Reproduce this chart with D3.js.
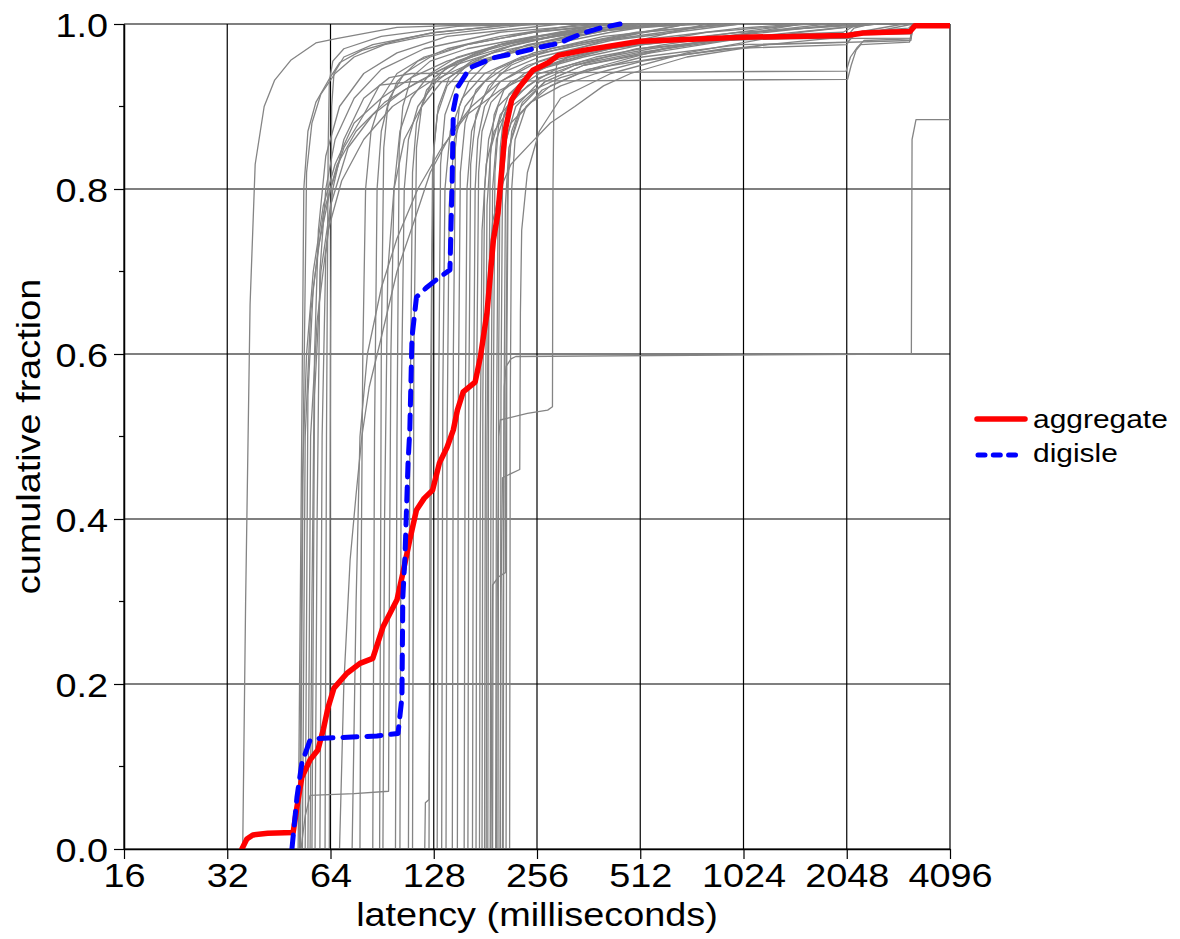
<!DOCTYPE html>
<html><head><meta charset="utf-8">
<script src="https://cdn.jsdelivr.net/npm/d3@7"></script>
<style>
body{margin:0;background:#fff}
svg{display:block}
text{font-family:"Liberation Sans",Arial,Helvetica,sans-serif;fill:#000}
</style>
</head><body>
<svg id="c" width="1180" height="939"></svg>
<script>
const xTicks = [16,32,64,128,256,512,1024,2048,4096];
const yTicks = [0,0.2,0.4,0.6,0.8,1.0];
const yMinorTicks = [0.1,0.3,0.5,0.7,0.9];
const legendLabels = ["aggregate","digisle"];

// [latency ms, cumulative fraction]
const aggregate = [[35.3,0],[36.5,0.012],[38,0.017],[42,0.019],[49.8,0.02],[51.1,0.051],[52.8,0.087],[55.8,0.108],[58.8,0.12],[61,0.145],[63,0.172],[65.5,0.195],[71.5,0.213],[78,0.225],[85,0.231],[91,0.269],[100,0.302],[104,0.334],[109,0.375],[114,0.411],[120,0.425],[127,0.435],[133,0.468],[140,0.487],[146,0.508],[150,0.532],[156,0.554],[169,0.566],[175,0.596],[183,0.65],[191,0.738],[197,0.771],[202,0.823],[207,0.872],[216,0.908],[228,0.924],[249,0.944],[276,0.953],[295,0.962],[349,0.968],[511,0.979],[1021,0.984],[2051,0.986],[2284,0.989],[3132,0.991],[3238,0.998],[4096,0.998]];

const digisle = [[49.4,0],[51.1,0.063],[52.8,0.104],[55.8,0.132],[58.8,0.134],[87.4,0.137],[100.7,0.14],[103.4,0.184],[104,0.305],[105.5,0.354],[107.7,0.468],[109,0.508],[110.6,0.62],[114,0.669],[122.3,0.681],[133,0.693],[142.7,0.702],[144.7,0.802],[146,0.896],[150.6,0.924],[163.3,0.947],[191,0.959],[224,0.965],[256,0.971],[299,0.977],[313,0.981],[349,0.989],[391,0.995],[447,1.0]];

const nodes = [
[[35.5,0],[36.2,0.3],[37.3,0.66],[38.6,0.83],[41,0.9],[44,0.932],[49,0.956],[58,0.977],[66,0.982],[100,0.996],[200,1]],
[[51.5,0],[52.5,0.4],[53.5,0.8],[55,0.87],[58,0.905],[64,0.936],[68,0.953],[79,0.968],[100,0.98],[125,0.989],[200,0.998],[300,1]],
[[52.3,0],[53.3,0.5],[54.5,0.82],[56.5,0.88],[60,0.915],[66,0.94],[75,0.96],[92,0.975],[120,0.985],[250,1]],
[[55.8,0],[56.5,0.3],[57.5,0.6],[59,0.75],[62,0.84],[68,0.9],[80,0.94],[100,0.965],[140,0.985],[300,1]],
[[57.7,0],[58.5,0.4],[59.6,0.7],[62,0.8],[66,0.86],[75,0.91],[90,0.945],[120,0.97],[200,0.99],[400,1]],
[[59.6,0],[60.5,0.5],[62,0.72],[65,0.8],[70,0.86],[80,0.91],[95,0.935],[110,0.94],[2040,0.943],[2100,0.96],[2200,0.972],[2300,0.98],[3150,0.982],[3200,1]],
[[61.7,0],[62.3,0.5],[63,0.85],[63.5,0.93],[65,0.955],[70,0.97],[90,0.985],[150,0.997],[250,1]],
[[63.5,0],[64,0.6],[64.5,0.9],[65.5,0.94],[70,0.96],[85,0.975],[130,0.99],[230,1]],
[[52,0],[53,0.45],[54.5,0.6],[57,0.7],[61,0.78],[66,0.83],[75,0.88],[90,0.91],[110,0.935],[140,0.955],[200,0.975],[300,0.99],[500,1]],
[[53,0],[54,0.5],[56,0.65],[59,0.73],[64,0.8],[70,0.85],[80,0.89],[89,0.926],[110,0.93],[2060,0.933],[2110,0.95],[2180,0.968],[2250,0.975],[3120,0.978],[3180,0.995],[3300,1]],
[[54,0],[55,0.55],[57,0.68],[61,0.77],[67,0.83],[76,0.87],[92,0.905],[115,0.93],[150,0.955],[220,0.975],[380,0.995],[550,1]],
[[55,0],[56,0.5],[58.5,0.64],[63,0.75],[69,0.81],[80,0.86],[97,0.9],[125,0.93],[160,0.95],[240,0.97],[420,0.99],[600,1]],
[[56.5,0],[57.5,0.55],[60,0.7],[64,0.78],[72,0.85],[85,0.89],[105,0.92],[135,0.945],[190,0.965],[320,0.985],[520,1]],
[[68,0],[70,0.2],[73,0.35],[76,0.43],[79,0.5],[83,0.56],[90,0.62],[100,0.7],[112,0.76],[125,0.82],[145,0.87],[165,0.9],[200,0.93],[260,0.955],[400,0.98],[700,1]],
[[74,0],[76,0.3],[78,0.5],[82,0.6],[90,0.68],[100,0.74],[115,0.8],[135,0.85],[160,0.89],[200,0.92],[280,0.95],[450,0.975],[800,1]],
[[78,0],[78.5,0.3],[79.5,0.6],[81,0.8],[84,0.87],[90,0.91],[100,0.94],[120,0.96],[160,0.975],[250,0.99],[420,1]],
[[85,0],[86,0.5],[87.5,0.8],[90,0.87],[95,0.91],[105,0.94],[125,0.96],[160,0.975],[250,0.99],[450,1]],
[[89,0],[90,0.6],[91.5,0.85],[94,0.9],[100,0.93],[115,0.955],[140,0.97],[200,0.985],[350,1]],
[[91,0],[92,0.4],[94,0.7],[98,0.8],[105,0.86],[118,0.9],[135,0.93],[170,0.955],[260,0.975],[500,1]],
[[52.5,0],[54,0.04],[55.8,0.065],[75,0.067],[94.5,0.07],[95,0.3],[96,0.6],[98,0.8],[102,0.87],[110,0.91],[125,0.94],[150,0.96],[220,0.98],[400,1]],
[[99,0],[100,0.5],[101.5,0.85],[104,0.9],[110,0.935],[125,0.955],[160,0.97],[250,0.985],[500,1]],
[[102,0],[103,0.55],[105,0.8],[108,0.86],[115,0.9],[130,0.93],[155,0.955],[200,0.975],[350,0.99],[600,1]],
[[108,0],[109,0.5],[111,0.82],[114,0.88],[122,0.92],[138,0.945],[170,0.965],[260,0.985],[480,1]],
[[111,0],[112,0.6],[114,0.85],[118,0.9],[128,0.935],[150,0.955],[200,0.975],[350,0.99],[650,1]],
[[120.5,0],[121,0.056],[124,0.06],[125.5,0.3],[126.5,0.7],[128,0.85],[132,0.9],[142,0.935],[165,0.955],[220,0.975],[400,1]],
[[124,0],[125,0.5],[127,0.83],[131,0.89],[140,0.925],[160,0.95],[200,0.97],[320,0.99],[600,1]],
[[131,0],[132,0.5],[134,0.83],[138,0.89],[148,0.925],[170,0.95],[220,0.97],[350,0.99],[700,1]],
[[135,0],[136,0.55],[138,0.8],[143,0.87],[155,0.91],[180,0.94],[230,0.96],[400,0.98],[900,1]],
[[139,0],[140,0.5],[142,0.78],[147,0.86],[158,0.9],[180,0.93],[220,0.955],[330,0.975],[700,1]],
[[145,0],[146,0.6],[148,0.85],[152,0.9],[162,0.93],[185,0.955],[240,0.975],[450,0.995],[800,1]],
[[150,0],[151,0.55],[153,0.82],[158,0.88],[170,0.92],[195,0.945],[250,0.965],[400,0.985],[900,1]],
[[157,0],[158,0.5],[160,0.8],[165,0.87],[178,0.91],[200,0.94],[260,0.96],[420,0.98],[1000,1]],
[[161,0],[162,0.55],[164,0.83],[170,0.89],[185,0.925],[215,0.95],[280,0.97],[500,0.99],[1000,1]],
[[166,0],[167,0.5],[169,0.8],[172,0.86],[180,0.9],[200,0.93],[240,0.95],[320,0.965],[500,0.98],[1000,0.995],[1500,1]],
[[170,0],[171,0.6],[173,0.82],[177,0.87],[188,0.905],[215,0.93],[260,0.945],[350,0.96],[520,0.975],[1200,0.99],[2000,1]],
[[174,0],[175,0.5],[177,0.75],[182,0.83],[192,0.87],[215,0.9],[250,0.92],[300,0.935],[400,0.95],[600,0.97],[1100,0.99],[1800,1]],
[[177,0],[178,0.55],[180,0.8],[185,0.86],[197,0.9],[220,0.92],[260,0.94],[350,0.955],[550,0.97],[1000,0.985],[2000,0.99],[2200,1]],
[[180,0],[181,0.5],[183,0.78],[188,0.85],[200,0.89],[225,0.915],[260,0.935],[330,0.95],[500,0.965],[900,0.98],[2050,0.985],[2150,0.995],[2400,1]],
[[184,0],[185,0.6],[187,0.84],[192,0.89],[205,0.92],[235,0.94],[280,0.955],[380,0.968],[600,0.978],[1000,0.982],[3150,0.983],[3200,1]],
[[187,0],[188,0.5],[190,0.8],[195,0.86],[210,0.9],[240,0.925],[290,0.945],[380,0.96],[600,0.975],[1100,0.99],[2200,1]],
[[190,0],[191,0.55],[193,0.82],[198,0.88],[212,0.915],[245,0.94],[300,0.955],[420,0.97],[800,0.99],[1600,1]],
[[194,0],[195,0.5],[197,0.76],[202,0.84],[215,0.88],[245,0.905],[300,0.925],[380,0.94],[520,0.955],[900,0.97],[2050,0.975],[2150,0.99],[3100,0.995],[3200,1]],
[[197,0],[198,0.6],[200,0.85],[205,0.89],[220,0.92],[255,0.945],[320,0.96],[480,0.975],[1000,0.99],[2500,1]],
[[200,0],[201,0.55],[203,0.8],[208,0.86],[222,0.9],[260,0.93],[330,0.95],[500,0.97],[1200,0.985],[3150,0.988],[3200,1]],
[[204,0],[205,0.5],[207,0.78],[212,0.85],[228,0.89],[265,0.92],[340,0.94],[520,0.96],[1000,0.975],[2060,0.978],[2200,0.99],[3000,1]],
[[208,0],[209,0.6],[211,0.82],[216,0.87],[232,0.905],[270,0.93],[350,0.95],[550,0.965],[1100,0.985],[2500,1]],
[[213,0],[214,0.55],[216,0.8],[221,0.86],[238,0.9],[280,0.925],[360,0.945],[600,0.96],[1200,0.975],[3150,0.98],[3200,1]],
[[182,0],[183,0.5],[185,0.7],[190,0.76],[200,0.8],[215,0.83],[245,0.855],[280,0.88],[330,0.9],[400,0.925],[480,0.94],[700,0.96],[1200,0.975],[2100,0.985],[3200,1]],
[[188,0],[189,0.2],[190,0.32],[198,0.33],[207,0.335],[208,0.6],[210,0.8],[215,0.86],[230,0.9],[270,0.93],[350,0.95],[600,0.97],[1500,1]],
[[200,0],[201,0.3],[203,0.45],[215,0.455],[228,0.46],[229,0.65],[231,0.75],[240,0.82],[260,0.87],[300,0.91],[420,0.94],[700,0.965],[1500,0.99],[2500,1]],
[[203,0],[204,0.3],[205.5,0.56],[208,0.585],[215,0.594],[222,0.597],[3160,0.6],[3175,0.86],[3260,0.884],[4096,0.884]],
[[195,0],[196,0.3],[198,0.5],[200,0.52],[240,0.528],[275,0.532],[284,0.536],[285,0.8],[287,0.92],[292,0.95],[320,0.963],[450,0.975],[800,0.985],[1500,1]]
];

const SX = 1.13;           // horizontal glyph stretch of the original font
const FS = 33.5;
const M = {left:124, right:950, top:24, bottom:849};

const x = d3.scaleLog().base(2).domain([16,4096]).range([M.left, M.right]);
const y = d3.scaleLinear().domain([0,1]).range([M.bottom, M.top]);
const svg = d3.select("#c");

svg.append("defs").append("clipPath").attr("id","clip")
  .append("rect").attr("x",M.left).attr("y",M.top-3)
  .attr("width",M.right-M.left).attr("height",M.bottom-M.top+3);

// grid
const grid = svg.append("g").attr("stroke","#000").attr("stroke-width",1.2);
grid.selectAll(".vx").data(xTicks).join("line")
  .attr("x1",d=>x(d)).attr("x2",d=>x(d)).attr("y1",M.top).attr("y2",M.bottom);
grid.selectAll(".hy").data(yTicks).join("line")
  .attr("y1",d=>y(d)).attr("y2",d=>y(d)).attr("x1",M.left).attr("x2",M.right);

const line = d3.line().x(d=>x(d[0])).y(d=>y(d[1]));
const plot = svg.append("g").attr("clip-path","url(#clip)");

plot.append("g").selectAll("path").data(nodes).join("path")
  .attr("d",line).attr("fill","none").attr("stroke","#848484")
  .attr("stroke-width",1.3).attr("stroke-linejoin","round");

plot.append("path").datum(aggregate).attr("d",line)
  .attr("fill","none").attr("stroke","#ff0000").attr("stroke-width",5.5)
  .attr("stroke-linejoin","round").attr("stroke-linecap","round");

plot.append("path").datum(digisle).attr("d",line)
  .attr("fill","none").attr("stroke","#0000ff").attr("stroke-width",5)
  .attr("stroke-dasharray","14,10").attr("stroke-linejoin","round").attr("stroke-linecap","round");

// axes
const gx = svg.append("g").attr("transform",`translate(0,${M.bottom})`)
  .call(d3.axisBottom(x).tickValues(xTicks).tickFormat(d3.format("d")).tickSize(10).tickSizeOuter(0));
gx.attr("font-size",null).attr("font-family",null);
gx.select(".domain").attr("stroke","#000").attr("stroke-width",1.5);
gx.selectAll(".tick line").attr("stroke","#000").attr("stroke-width",1.2);
gx.selectAll(".tick text").attr("y",38).attr("dy",null)
  .attr("transform",`scale(${SX},1)`).style("font-size",FS+"px").attr("fill","#000");

const gy = svg.append("g").attr("transform",`translate(${M.left},0)`)
  .call(d3.axisLeft(y).tickValues(yTicks).tickFormat(d3.format(".1f")).tickSize(10).tickSizeOuter(0));
gy.attr("font-size",null).attr("font-family",null);
gy.select(".domain").attr("stroke","#000").attr("stroke-width",1.5);
gy.selectAll(".tick line").attr("stroke","#000").attr("stroke-width",1.2);
gy.selectAll(".tick text").attr("x",-16/SX).attr("y",12).attr("dy",null)
  .attr("transform",`scale(${SX},1)`).style("font-size",FS+"px").attr("fill","#000");

gy.append("g").selectAll("line").data(yMinorTicks).join("line")
  .attr("x1",-5).attr("x2",0).attr("y1",d=>y(d)).attr("y2",d=>y(d))
  .attr("stroke","#000").attr("stroke-width",1.2);

// titles
svg.append("text").attr("transform",`translate(${(M.left+M.right)/2},926) scale(${SX},1)`)
  .attr("text-anchor","middle").style("font-size",FS+"px").text("latency (milliseconds)");
svg.append("text").attr("transform",`translate(40,${(M.top+M.bottom)/2}) rotate(-90) scale(${SX},1)`)
  .attr("text-anchor","middle").style("font-size",FS+"px").text("cumulative fraction");

// legend
const leg = svg.append("g");
const legY = [419,455], legTextY = [428,462];
leg.append("line").attr("x1",977).attr("x2",1025).attr("y1",legY[0]).attr("y2",legY[0])
  .attr("stroke","#ff0000").attr("stroke-width",5.5).attr("stroke-linecap","round");
leg.append("line").attr("x1",978).attr("x2",1018).attr("y1",legY[1]).attr("y2",legY[1])
  .attr("stroke","#0000ff").attr("stroke-width",5).attr("stroke-dasharray","7,8.3").attr("stroke-linecap","round");
legendLabels.forEach((t,i)=>{
  leg.append("text").attr("transform",`translate(1033,${legTextY[i]}) scale(${SX},1)`)
    .style("font-size","26.5px").text(t);
});
</script>
</body></html>
